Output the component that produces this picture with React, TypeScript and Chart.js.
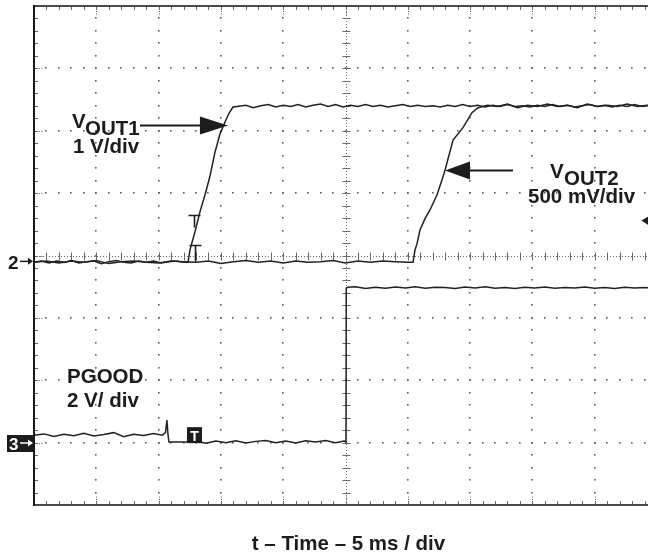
import React, { useEffect, useRef } from "react";
import { Chart, registerables } from "chart.js";

Chart.register(...registerables);

// Oscilloscope screen: 10 x 8 divisions, 5 ms / div
const TIME_PER_DIV_MS = 5;
const H_DIVS = 10;
const V_DIVS = 8;
const MINOR_PER_DIV = 5;

const AXIS_TITLE = "t \u2013 Time \u2013 5 ms / div";

// Channel ground references (divisions from the bottom) and scales (V/div)
const VOUT1_REF_DIV = 3.89;
const VOUT2_REF_DIV = 3.89;
const PGOOD_REF_DIV = 1.01;
const VOUT1_V_PER_DIV = 1;
const VOUT2_V_PER_DIV = 0.5;
const PGOOD_V_PER_DIV = 2;

// VOUT1 trace (time in ms, volts)
const vout1Time = [
  0, 0.6, 1.2, 1.8, 2.4, 3.0, 3.6, 4.2, 4.8, 5.4, 6.0, 6.6, 7.2, 7.8, 8.4, 9.0, 9.6, 10.2, 10.8, 11.4, 12.0, 12.36,
  12.52, 12.92, 13.32, 13.72, 14.12, 14.53, 14.93, 15.33, 15.65, 15.97, 16.29,
  17.0, 17.6, 18.2, 18.8, 19.4, 20.0, 20.6, 21.2, 21.8, 22.4, 23.0, 23.6, 24.2, 24.8, 25.4, 26.0, 26.6, 27.2,
  27.8, 28.4, 29.0, 29.6, 30.2, 30.8, 31.4, 32.0, 32.6, 33.2, 33.8, 34.4, 35.0, 35.6, 36.2, 36.8, 37.4, 38.0,
  38.6, 39.2, 39.8, 40.4, 41.0, 41.6, 42.2, 42.8, 43.4, 44.0, 44.6, 45.2, 45.8, 46.4, 47.0, 47.6, 48.2, 48.8,
  49.4, 50.0,
];
const vout1Volts = [
  0, 0.02, -0.01, 0.02, 0, 0.03, -0.01, 0.01, 0.02, -0.02, 0.01, 0.03, 0, -0.01, 0.02, 0, 0.02, -0.01, 0.01, 0.02, 0, 0,
  0.2, 0.49, 0.81, 1.08, 1.38, 1.77, 2.06, 2.25, 2.39, 2.49, 2.5,
  2.52, 2.48, 2.51, 2.53, 2.49, 2.52, 2.5, 2.53, 2.49, 2.52, 2.54, 2.5, 2.53, 2.49, 2.52, 2.5, 2.53, 2.5,
  2.52, 2.49, 2.51, 2.53, 2.5, 2.52, 2.5, 2.51, 2.49, 2.52, 2.5, 2.53, 2.5, 2.52, 2.49, 2.52, 2.5, 2.53,
  2.5, 2.51, 2.49, 2.52, 2.5, 2.53, 2.5, 2.52, 2.49, 2.51, 2.53, 2.5, 2.52, 2.49, 2.52, 2.5, 2.53, 2.5,
  2.52, 2.5,
];

// VOUT2 trace (time in ms, volts)
const vout2Time = [
  0, 1, 2, 3, 4, 5, 6, 7, 8, 9, 10, 11, 12, 13, 14, 15, 16, 17, 18, 19, 20, 21, 22, 23, 24, 25, 26, 27, 28, 29,
  30, 30.42,
  30.58, 30.74, 30.98, 31.38, 31.78, 32.34, 32.74, 32.99, 33.63, 34.43, 35.15, 35.63,
  36.4, 37.2, 38.0, 38.8, 39.6, 40.4, 41.2, 42.0, 42.8, 43.6, 44.4, 45.2, 46.0, 46.8, 47.6, 48.4, 49.2, 50.0,
];
const vout2Volts = [
  0, 0.01, -0.005, 0.01, 0, 0.015, -0.01, 0.005, 0.01, 0, -0.005, 0.01, 0.005, 0, 0.01, -0.01, 0.005, 0.015, 0,
  0.01, -0.005, 0.01, 0, 0.005, 0.015, -0.005, 0.01, 0, 0.01, 0.005, 0, 0,
  0.1, 0.15, 0.26, 0.35, 0.42, 0.54, 0.66, 0.74, 0.98, 1.08, 1.2, 1.24,
  1.26, 1.25, 1.27, 1.24, 1.26, 1.25, 1.27, 1.25, 1.26, 1.24, 1.27, 1.25, 1.26, 1.25, 1.27, 1.25, 1.26, 1.25,
];

// PGOOD trace (time in ms, volts)
const pgoodTime = [
  0, 0.8, 1.6, 2.4, 3.2, 4.0, 4.8, 5.6, 6.4, 7.2, 8.0, 8.8, 9.6, 10.3, 10.55, 10.67, 10.75, 10.83,
  11.6, 12.4, 13.0, 13.8, 14.6, 15.4, 16.2, 17.0, 17.8, 18.6, 19.4, 20.2, 21.0, 21.8, 22.6, 23.4, 24.2, 24.9, 25.04,
  25.06, 25.2, 25.8, 26.6, 27.4, 28.2, 29.0, 29.8, 30.6, 31.4, 32.2, 33.0, 33.8, 34.6, 35.4, 36.2, 37.0, 37.8,
  38.6, 39.4, 40.2, 41.0, 41.8, 42.6, 43.4, 44.2, 45.0, 45.8, 46.6, 47.4, 48.2, 49.0, 50.0,
];
const pgoodVolts = [
  0.22, 0.26, 0.18, 0.25, 0.2, 0.28, 0.19, 0.24, 0.3, 0.17, 0.25, 0.21, 0.27, 0.22, 0.3, 0.7, 0.25, 0,
  0, 0, 0.02, -0.04, 0.03, -0.02, 0.04, -0.03, 0.02, 0.05, -0.02, 0.03, -0.03, 0.04, 0, 0.05, -0.02, 0.03, 0,
  4.94, 4.96, 4.98, 4.92, 4.96, 4.93, 4.97, 4.94, 4.98, 4.93, 4.96, 4.95, 4.92, 4.97, 4.94, 4.98, 4.93, 4.95,
  4.92, 4.96, 4.94, 4.97, 4.93, 4.95, 4.94, 4.97, 4.93, 4.95, 4.92, 4.96, 4.94, 4.95, 4.93,
];

const toPoints = (t: number[], v: number[], ref: number, vpd: number) =>
  t.map((x, i) => ({ x, y: ref + v[i] / vpd }));

const TEXT_FONT = "bold 20.5px 'Liberation Sans', Arial, sans-serif";
const INK = "#1c1c1c";
const GRID = "#5c5c5c";

const scopePlugin = {
  id: "scopeScreen",
  beforeDatasetsDraw(chart: any) {
    const { ctx } = chart;
    const xs = chart.scales.x;
    const ys = chart.scales.y;
    const X = (ms: number) => xs.getPixelForValue(ms);
    const Y = (d: number) => ys.getPixelForValue(d);
    const tMax = H_DIVS * TIME_PER_DIV_MS;
    const left = X(0), right = X(tMax), top = Y(V_DIVS), bottom = Y(0);
    const minorX: number[] = [];
    const minorY: number[] = [];
    for (let i = 0; i <= H_DIVS * MINOR_PER_DIV; i++) minorX.push(X((i * TIME_PER_DIV_MS) / MINOR_PER_DIV));
    for (let j = 0; j <= V_DIVS * MINOR_PER_DIV; j++) minorY.push(Y(j / MINOR_PER_DIV));
    ctx.save();
    ctx.fillStyle = GRID;
    // dotted major grid lines
    for (let i = 1; i < H_DIVS; i++) {
      if (i === H_DIVS / 2) continue;
      const x = X(i * TIME_PER_DIV_MS);
      for (const y of minorY) ctx.fillRect(Math.round(x) - 1, Math.round(y) - 1, 1.6, 1.6);
    }
    for (let j = 1; j < V_DIVS; j++) {
      if (j === V_DIVS / 2) continue;
      const y = Y(j);
      for (const x of minorX) ctx.fillRect(Math.round(x) - 1, Math.round(y) - 1, 1.6, 1.6);
    }
    // centre graticule lines with minor cross ticks
    ctx.strokeStyle = "#6a6a6a";
    ctx.lineWidth = 1;
    const cx = Math.round(X(tMax / 2)) + 0.5;
    const cy = Math.round(Y(V_DIVS / 2)) + 0.5;
    ctx.setLineDash([1, 2]);
    ctx.beginPath();
    ctx.moveTo(cx, top);
    ctx.lineTo(cx, bottom);
    ctx.moveTo(left, cy);
    ctx.lineTo(right, cy);
    ctx.stroke();
    ctx.setLineDash([]);
    ctx.beginPath();
    for (const y of minorY) {
      ctx.moveTo(cx - 4, Math.round(y) + 0.5);
      ctx.lineTo(cx + 4, Math.round(y) + 0.5);
    }
    for (const x of minorX) {
      ctx.moveTo(Math.round(x) + 0.5, cy - 4);
      ctx.lineTo(Math.round(x) + 0.5, cy + 4);
    }
    ctx.stroke();
    // edge ticks
    ctx.beginPath();
    for (const x of minorX) {
      const px = Math.round(x) + 0.5;
      ctx.moveTo(px, top);
      ctx.lineTo(px, top + 4);
      ctx.moveTo(px, bottom);
      ctx.lineTo(px, bottom - 4);
    }
    for (const y of minorY) {
      const py = Math.round(y) + 0.5;
      ctx.moveTo(left, py);
      ctx.lineTo(left + 4, py);
    }
    ctx.stroke();
    // dense dotted stubs at major lines near the edges
    ctx.setLineDash([1, 1.5]);
    ctx.beginPath();
    for (let i = 1; i < H_DIVS; i++) {
      const px = Math.round(X(i * TIME_PER_DIV_MS)) + 0.5;
      ctx.moveTo(px, top);
      ctx.lineTo(px, top + 10);
      ctx.moveTo(px, bottom);
      ctx.lineTo(px, bottom - 10);
    }
    for (let j = 1; j < V_DIVS; j++) {
      const py = Math.round(Y(j)) + 0.5;
      ctx.moveTo(left, py);
      ctx.lineTo(left + 10, py);
    }
    ctx.stroke();
    ctx.setLineDash([]);
    // frame
    ctx.strokeStyle = "#4a4a4a";
    ctx.lineWidth = 2;
    ctx.beginPath();
    ctx.moveTo(left, top);
    ctx.lineTo(right, top);
    ctx.moveTo(left, bottom);
    ctx.lineTo(right, bottom);
    ctx.moveTo(right, top);
    ctx.lineTo(right, bottom);
    ctx.stroke();
    ctx.strokeStyle = "#1a1a1a";
    ctx.beginPath();
    ctx.moveTo(left, top - 1);
    ctx.lineTo(left, bottom + 1);
    ctx.stroke();
    ctx.restore();
  },
  afterDatasetsDraw(chart: any) {
    const { ctx } = chart;
    const xs = chart.scales.x;
    const ys = chart.scales.y;
    const X = (ms: number) => xs.getPixelForValue(ms);
    const Y = (d: number) => ys.getPixelForValue(d);
    const left = X(0), right = X(H_DIVS * TIME_PER_DIV_MS), bottom = Y(0);
    ctx.save();
    ctx.fillStyle = INK;
    ctx.strokeStyle = INK;
    ctx.font = TEXT_FONT;
    ctx.textBaseline = "alphabetic";
    ctx.textAlign = "left";
    // channel labels
    ctx.fillText("V", X(3.05), Y(6.04));
    ctx.fillText("OUT1", X(4.09), Y(5.93));
    ctx.fillText("1 V/div", X(3.13), Y(5.64));
    ctx.fillText("V", X(41.41), Y(5.24));
    ctx.fillText("OUT2", X(42.54), Y(5.13));
    ctx.fillText("500 mV/div", X(39.65), Y(4.84));
    ctx.fillText("PGOOD", X(2.65), Y(1.955));
    ctx.fillText("2 V/ div", X(2.65), Y(1.57));

    // pointer arrows
    const arrow = (x0: number, x1: number, tip: number, base: number, d: number) => {
      const y = Math.round(Y(d)) + 0.5;
      ctx.lineWidth = 2;
      ctx.beginPath();
      ctx.moveTo(X(x0), y);
      ctx.lineTo(X(x1), y);
      ctx.stroke();
      ctx.beginPath();
      ctx.moveTo(X(tip), y);
      ctx.lineTo(X(base), y - 9);
      ctx.lineTo(X(base), y + 9);
      ctx.closePath();
      ctx.fill();
    };
    arrow(8.51, 13.48, 15.57, 13.32, 6.09);
    arrow(34.99, 38.44, 32.99, 34.99, 5.37);

    // trigger cursors on VOUT1 rising edge
    ctx.lineWidth = 1.6;
    const tee = (ms: number, d: number, stem: number) => {
      const x = Math.round(X(ms)) + 0.5;
      const y = Math.round(Y(d)) + 0.5;
      ctx.beginPath();
      ctx.moveTo(x - 6, y);
      ctx.lineTo(x + 6, y);
      ctx.moveTo(x, y);
      ctx.lineTo(x, y + stem);
      ctx.stroke();
    };
    tee(12.84, 4.647, 12);
    tee(12.92, 4.167, 16);

    // PGOOD trigger box
    const bx = X(12.88), by = Y(1.12);
    ctx.fillRect(bx - 7.5, by - 8, 15, 16);
    ctx.fillStyle = "#ffffff";
    ctx.font = "bold 14px 'Liberation Sans', Arial, sans-serif";
    ctx.textAlign = "center";
    ctx.fillText("T", bx, by + 6);
    ctx.fillStyle = INK;

    // right-edge trigger level marker
    const ty = Y(4.56);
    ctx.beginPath();
    ctx.moveTo(X(48.75), ty);
    ctx.lineTo(X(48.75) + 12, ty - 7);
    ctx.lineTo(X(48.75) + 12, ty + 8);
    ctx.closePath();
    ctx.fill();

    // channel ground markers
    ctx.font = "bold 19px 'Liberation Sans', Arial, sans-serif";
    ctx.textAlign = "left";
    const y2 = Y(VOUT2_REF_DIV);
    ctx.fillText("2", left - 26, y2 + 7);
    const smallArrow = (yy: number) => {
      ctx.lineWidth = 1.5;
      ctx.beginPath();
      ctx.moveTo(left - 14, yy);
      ctx.lineTo(left - 4, yy);
      ctx.stroke();
      ctx.beginPath();
      ctx.moveTo(left - 1, yy);
      ctx.lineTo(left - 6, yy - 3.5);
      ctx.lineTo(left - 6, yy + 3.5);
      ctx.closePath();
      ctx.fill();
    };
    smallArrow(y2 - 1);
    const y3 = Y(PGOOD_REF_DIV);
    ctx.fillRect(left - 27, y3 - 7, 26, 17);
    ctx.fillStyle = "#ffffff";
    ctx.strokeStyle = "#ffffff";
    ctx.font = "bold 17px 'Liberation Sans', Arial, sans-serif";
    ctx.fillText("3", left - 25, y3 + 8);
    smallArrow(y3 + 1);

    // horizontal axis title
    ctx.fillStyle = INK;
    ctx.font = TEXT_FONT;
    ctx.textAlign = "center";
    ctx.fillText(AXIS_TITLE, (left + right) / 2 + 3, bottom + 45);
    ctx.restore();
  },
};

export default function App() {
  const canvasRef = useRef<HTMLCanvasElement | null>(null);

  useEffect(() => {
    const canvas = canvasRef.current;
    if (!canvas) return;
    const traceStyle = {
      borderColor: "#222222",
      borderWidth: 1.5,
      pointRadius: 0,
      tension: 0,
      fill: false,
    };
    const chart = new Chart(canvas, {
      type: "line",
      data: {
        datasets: [
          { label: "VOUT1", data: toPoints(vout1Time, vout1Volts, VOUT1_REF_DIV, VOUT1_V_PER_DIV), ...traceStyle },
          { label: "VOUT2", data: toPoints(vout2Time, vout2Volts, VOUT2_REF_DIV, VOUT2_V_PER_DIV), ...traceStyle },
          { label: "PGOOD", data: toPoints(pgoodTime, pgoodVolts, PGOOD_REF_DIV, PGOOD_V_PER_DIV), ...traceStyle },
        ],
      },
      options: {
        animation: false,
        responsive: false,
        maintainAspectRatio: false,
        devicePixelRatio: 1,
        parsing: false,
        layout: { padding: { left: 34, top: 6, right: 23, bottom: 47 } },
        plugins: { legend: { display: false }, tooltip: { enabled: false }, title: { display: false } },
        events: [],
        scales: {
          x: { type: "linear", display: false, min: 0, max: H_DIVS * TIME_PER_DIV_MS },
          y: { type: "linear", display: false, min: 0, max: V_DIVS },
        },
      },
      plugins: [scopePlugin],
    });
    return () => chart.destroy();
  }, []);

  return (
    <div
      style={{
        position: "absolute",
        left: 0,
        top: 0,
        width: 648,
        height: 552,
        overflow: "hidden",
        background: "#ffffff",
      }}
    >
      <canvas ref={canvasRef} width={680} height={552} style={{ width: 680, height: 552, display: "block" }} />
    </div>
  );
}
